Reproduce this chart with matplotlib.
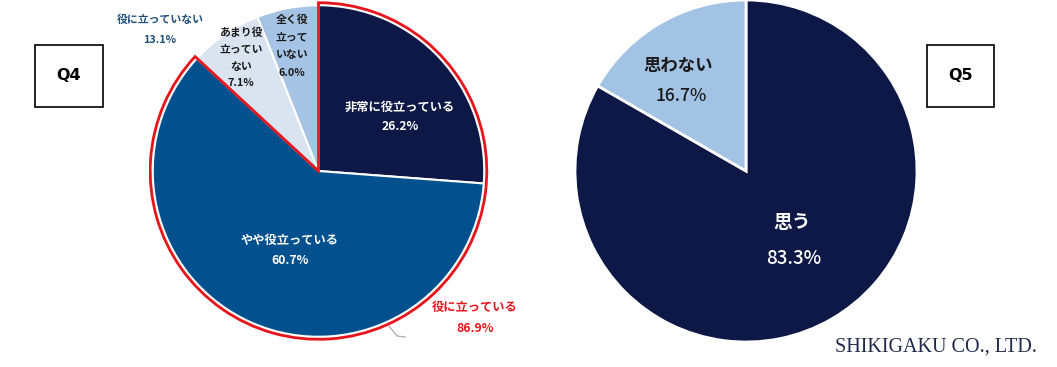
import matplotlib
matplotlib.use("Agg")
import matplotlib.pyplot as plt
from matplotlib.patches import Wedge, Rectangle
from matplotlib.lines import Line2D

plt.rcParams['font.family'] = ['Noto Sans CJK JP', 'DejaVu Sans']

# ---- data ----
q4_labels = ["非常に役立っている", "やや役立っている", "あまり役\n立ってい\nない", "全く役\n立って\nいない"]
q4_values = [26.2, 60.7, 7.1, 6.0]
q4_colors = ["#0e1846", "#03508f", "#dae4f1", "#a5c3e4"]
q4_pos_label = "役に立っている"
q4_pos_value = 86.9
q4_neg_label = "役に立っていない"
q4_neg_value = 13.1

q5_labels = ["思う", "思わない"]
q5_values = [83.3, 16.7]
q5_colors = ["#0e1846", "#a3c3e5"]

W, H = 1057, 367
fig = plt.figure(figsize=(W / 100, H / 100), dpi=100)
fig.patch.set_facecolor("white")


def px_axes(cx, cy, r):
    ax = fig.add_axes([(cx - r) / W, 1 - (cy + r) / H, 2 * r / W, 2 * r / H])
    ax.axis("off")
    return ax


def ftext(x, y, s, **kw):
    fig.text(x / W, 1 - y / H, s, ha="center", va="center", **kw)


# ---- Q4 pie ----
ax1 = px_axes(318.5, 171, 170)
ax1.pie(q4_values, colors=q4_colors, startangle=90, counterclock=False,
        radius=0.975, wedgeprops=dict(edgecolor="white", linewidth=1.5))
ax1.set_xlim(-1, 1)
ax1.set_ylim(-1, 1)
ang = 360 * q4_pos_value / 100
ax1.add_patch(Wedge((0, 0), 0.99, 90 - ang, 90, fill=False,
                    edgecolor="#e8141c", linewidth=2.0, zorder=5))

# labels Q4
ftext(400, 107, q4_labels[0], color="white", fontsize=8.8, fontweight="bold")
ftext(400, 127, f"{q4_values[0]}%", color="white", fontsize=8.8, fontweight="bold")
ftext(290, 240, q4_labels[1], color="white", fontsize=8.8, fontweight="bold")
ftext(290, 260, f"{q4_values[1]}%", color="white", fontsize=8.8, fontweight="bold")
ftext(241, 58, q4_labels[2] + f"\n{q4_values[2]}%", color="#1a1a1a", fontsize=7.8,
      fontweight="bold", linespacing=1.85)
ftext(292, 46, q4_labels[3] + f"\n{q4_values[3]}%", color="#1a1a1a", fontsize=7.8,
      fontweight="bold", linespacing=1.95)
ftext(160, 20, q4_neg_label, color="#1f4e79", fontsize=7.8, fontweight="bold")
ftext(160, 40, f"{q4_neg_value}%", color="#1f4e79", fontsize=7.8, fontweight="bold")
ftext(475, 307, q4_pos_label, color="#e8141c", fontsize=8.8, fontweight="bold")
ftext(475, 328, f"{q4_pos_value}%", color="#e8141c", fontsize=8.8, fontweight="bold")
fig.add_artist(Line2D([389 / W, 397 / W, 405 / W], [1 - 326 / H, 1 - 336 / H, 1 - 337 / H],
                      color="#b0b0b0", linewidth=1.0))

# Q4 box
fig.add_artist(Rectangle((35 / W, 1 - 107 / H), 68 / W, 62 / H, fill=False,
                         edgecolor="black", linewidth=1.2))
ftext(69, 76, "Q4", color="black", fontsize=11.5, fontweight="bold",
      family=["DejaVu Sans"])

# ---- Q5 pie ----
ax2 = px_axes(746, 171, 171)
ax2.pie(q5_values, colors=q5_colors, startangle=90, counterclock=False,
        radius=1.0, wedgeprops=dict(edgecolor="white", linewidth=2))
ax2.set_xlim(-1, 1)
ax2.set_ylim(-1, 1)
ftext(792, 223, q5_labels[0], color="white", fontsize=13.5, fontweight="bold")
ftext(794, 258, f"{q5_values[0]}%", color="white", fontsize=13.5, fontweight="medium")
ftext(678, 66, q5_labels[1], color="#1a1a1a", fontsize=12.5, fontweight="bold")
ftext(681, 96, f"{q5_values[1]}%", color="#1a1a1a", fontsize=12.5, fontweight="medium")

fig.add_artist(Rectangle((927 / W, 1 - 107 / H), 67 / W, 62 / H, fill=False,
                         edgecolor="black", linewidth=1.2))
ftext(961, 76, "Q5", color="black", fontsize=11.5, fontweight="bold",
      family=["DejaVu Sans"])

ftext(936, 347, "SHIKIGAKU CO., LTD.", color="#1f2a4a", fontsize=14.5,
      family=["Liberation Serif", "DejaVu Serif"])

fig.savefig("out.png", dpi=100, facecolor="white")
